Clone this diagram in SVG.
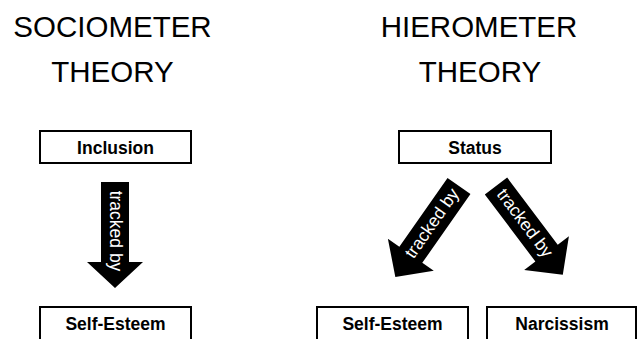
<svg xmlns="http://www.w3.org/2000/svg" width="638" height="339" viewBox="0 0 638 339">
  <style>
    .title { font-family: "Liberation Sans", Arial, sans-serif; font-size: 29.5px; fill: #000; text-anchor: middle; }
    .box rect { fill: #fff; stroke: #000; stroke-width: 2; }
    .box text { font-family: "Liberation Sans", Arial, sans-serif; font-size: 17.5px; font-weight: bold; fill: #000; text-anchor: middle; }
    .arrow path { fill: #000; }
    .arrow text { font-family: "Liberation Sans", Arial, sans-serif; font-size: 17.5px; fill: #fff; text-anchor: middle; }
  </style>
  <defs>
    <path id="arrowV" d="M -14 0 L 14 0 L 14 80 L 28 80 L 0 106 L -28 80 L -14 80 Z"/>
    <path id="arrowD" d="M -14 0 L 14 0 L 14 84 L 28 84 L 0 111 L -28 84 L -14 84 Z"/>
  </defs>
  <rect x="0" y="0" width="638" height="339" fill="#fff"/>

  <g id="titles">
    <text class="title" x="112.5" y="37">SOCIOMETER</text>
    <text class="title" x="112.5" y="82">THEORY</text>
    <text class="title" x="479" y="37">HIEROMETER</text>
    <text class="title" x="480" y="82">THEORY</text>
  </g>

  <g id="connectors">
    <g class="arrow" id="arrow-inclusion-selfesteem" transform="translate(115,182)">
      <use href="#arrowV"/>
      <text transform="translate(0,49) rotate(90)" x="0" y="5">tracked by</text>
    </g>
    <g class="arrow" id="arrow-status-selfesteem" transform="translate(459,186) rotate(35)">
      <use href="#arrowD"/>
      <text transform="translate(0,46) rotate(-90)" x="0" y="5">tracked by</text>
    </g>
    <g class="arrow" id="arrow-status-narcissism" transform="translate(496,186) rotate(-37)">
      <use href="#arrowD"/>
      <text transform="translate(0,47) rotate(90)" x="0" y="5">tracked by</text>
    </g>
  </g>

  <g id="node-inclusion" class="box">
    <rect x="40" y="131" width="151" height="32"/>
    <text x="115.5" y="154">Inclusion</text>
  </g>
  <g id="node-selfesteem-left" class="box">
    <rect x="40" y="307" width="151" height="36"/>
    <text x="115.5" y="330">Self-Esteem</text>
  </g>
  <g id="node-status" class="box">
    <rect x="399" y="131" width="152" height="32"/>
    <text x="475" y="154">Status</text>
  </g>
  <g id="node-selfesteem-right" class="box">
    <rect x="317" y="307" width="151" height="36"/>
    <text x="392.5" y="330">Self-Esteem</text>
  </g>
  <g id="node-narcissism" class="box">
    <rect x="487" y="307" width="149" height="36"/>
    <text x="562" y="330">Narcissism</text>
  </g>
</svg>
